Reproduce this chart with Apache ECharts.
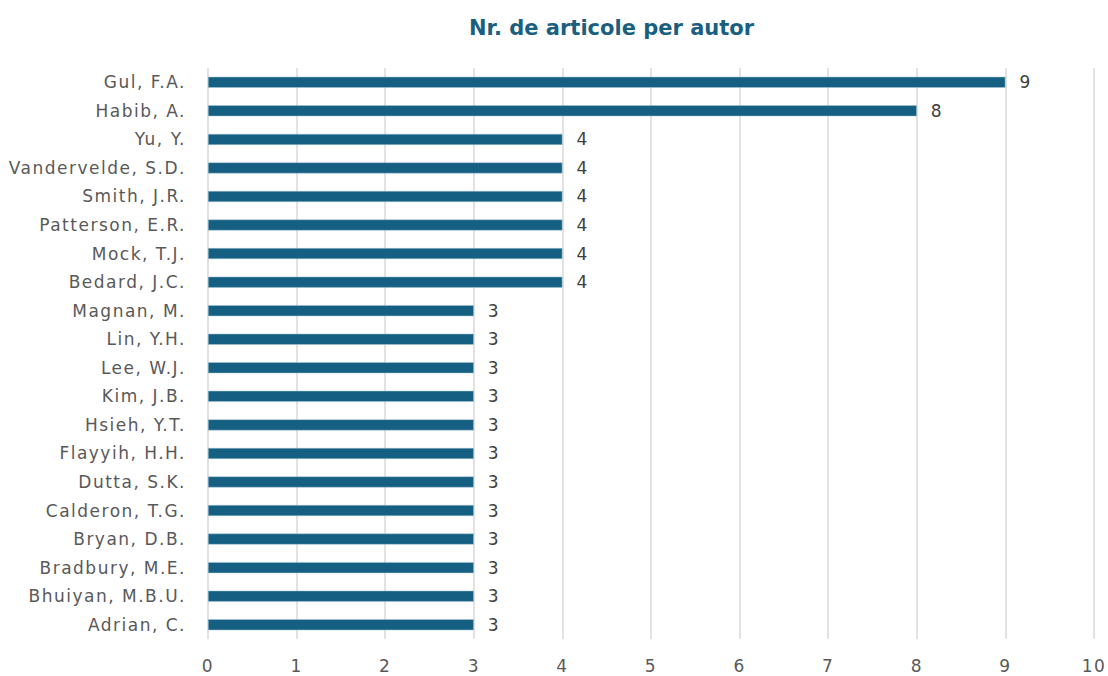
<!DOCTYPE html>
<html><head><meta charset="utf-8">
<script src="https://cdn.jsdelivr.net/npm/echarts@6/dist/echarts.min.js"></script>
<style>html,body{margin:0;padding:0;background:#fff}#c{width:1108px;height:676px}</style>
</head><body><div id="c"></div>
<script>
const titleText = 'Nr. de articole per autor';
const authors = ["Gul, F.A.","Habib, A.","Yu, Y.","Vandervelde, S.D.","Smith, J.R.","Patterson, E.R.","Mock, T.J.","Bedard, J.C.","Magnan, M.","Lin, Y.H.","Lee, W.J.","Kim, J.B.","Hsieh, Y.T.","Flayyih, H.H.","Dutta, S.K.","Calderon, T.G.","Bryan, D.B.","Bradbury, M.E.","Bhuiyan, M.B.U.","Adrian, C."];
const articles = [9,8,4,4,4,4,4,4,3,3,3,3,3,3,3,3,3,3,3,3];
const chart = echarts.init(document.getElementById('c'), null, {renderer:'svg'});
chart.setOption({
  animation:false,
  title:{text:titleText,left:464,top:12,textStyle:{fontFamily:'DejaVu Sans',fontSize:21,fontWeight:'bold',color:'#1b5f80'}},
  grid:{left:208,right:14,top:68,bottom:37},
  xAxis:{type:'value',min:0,max:10,interval:1,
    axisLine:{show:false},axisTick:{show:false},
    axisLabel:{fontFamily:'DejaVu Sans',fontSize:17,color:'#595959',margin:18},
    splitLine:{lineStyle:{color:'#d9d9d9',width:1.5}}},
  yAxis:{type:'category',data:authors,inverse:true,
    axisLine:{show:false},axisTick:{show:false},
    axisLabel:{fontFamily:'DejaVu Sans',fontSize:17,color:'#595959',margin:22}},
  series:[{type:'bar',data:articles,barWidth:11,
    itemStyle:{color:'#155f82',borderColor:'#a9c6d6',borderWidth:0.5},
    label:{show:true,position:'right',distance:14,fontFamily:'DejaVu Sans',fontSize:17,color:'#404040'}}]
});
function spaceLabels(){
  document.querySelectorAll('#c text').forEach(t=>{
    if (t.textContent !== titleText) t.style.letterSpacing = '1.5px';
  });
}
spaceLabels();
chart.on('finished', spaceLabels);
</script></body></html>
